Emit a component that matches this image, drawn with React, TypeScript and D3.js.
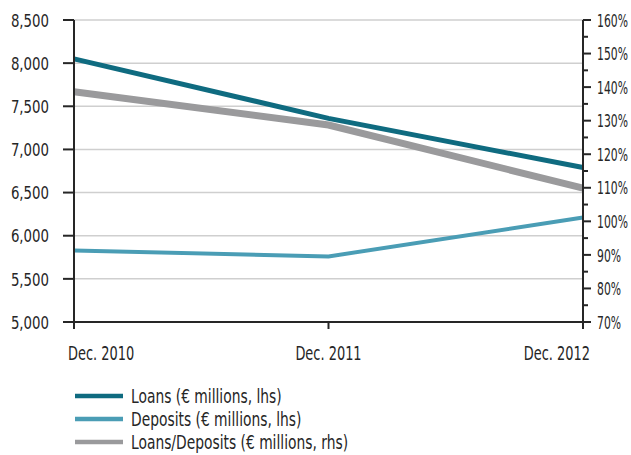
import React from "react";
import * as d3 from "d3";

const categories = ["Dec. 2010", "Dec. 2011", "Dec. 2012"];
const loans = [8050, 7360, 6790];
const deposits = [5830, 5760, 6210];
const ratio = [138.6, 128.7, 109.9];
const leftTicks = [5000, 5500, 6000, 6500, 7000, 7500, 8000, 8500];
const rightTicks = [70, 80, 90, 100, 110, 120, 130, 140, 150, 160];
const rightMinor = [75, 85, 95, 105, 115, 125, 135, 145, 155];
const legendLabels = [
  "Loans (€ millions, lhs)",
  "Deposits (€ millions, lhs)",
  "Loans/Deposits (€ millions, rhs)",
];

const W = 631;
const H = 455;
const FONT = "'DejaVu Sans Condensed', 'DejaVu Sans', sans-serif";
const TXT = "#262626";
const C_LOANS = "#0f6b80";
const C_DEP = "#4a9db5";
const C_RATIO = "#9a9a9c";

type TProps = {
  x: number;
  y: number;
  size: number;
  sx: number;
  anchor?: "start" | "middle" | "end";
  dy?: string;
  children: React.ReactNode;
};

function Txt({ x, y, size, sx, anchor = "start", dy, children }: TProps) {
  return (
    <text
      transform={`translate(${x},${y}) scale(${sx},1)`}
      textAnchor={anchor}
      fontSize={size}
      dy={dy}
      fill={TXT}
    >
      {children}
    </text>
  );
}

export default function App() {
  const x = d3.scalePoint<string>().domain(categories).range([74, 583]);
  const yL = d3.scaleLinear().domain([5000, 8500]).range([322, 20]);
  const yR = d3.scaleLinear().domain([70, 160]).range([322, 20]);
  const fmt = d3.format(",");

  const lineL = d3
    .line<number>()
    .x((_, i) => x(categories[i]) as number)
    .y((d) => yL(d));
  const lineR = d3
    .line<number>()
    .x((_, i) => x(categories[i]) as number)
    .y((d) => yR(d));

  const [x0, x1] = x.range();
  const series = [
    { path: lineL(loans), color: C_LOANS, w: 5 },
    { path: lineL(deposits), color: C_DEP, w: 4 },
    { path: lineR(ratio), color: C_RATIO, w: 7 },
  ];

  const xLabelPos = (c: string, i: number) => {
    const px = x(c) as number;
    if (i === 0) return { px: px - 6, anchor: "start" as const };
    if (i === categories.length - 1) return { px: px + 7, anchor: "end" as const };
    return { px, anchor: "middle" as const };
  };

  return (
    <svg
      width={W}
      height={H}
      style={{ position: "absolute", left: 0, top: 0, background: "#fff" }}
      fontFamily={FONT}
    >
      {/* gridlines */}
      {leftTicks.slice(1).map((t) => (
        <line key={"g" + t} x1={x0} x2={x1} y1={yL(t)} y2={yL(t)} stroke="#cfcfcf" strokeWidth={1.5} />
      ))}
      {/* series */}
      {[series[2], series[1], series[0]].map((s, i) => (
        <path key={i} d={s.path || ""} fill="none" stroke={s.color} strokeWidth={s.w} />
      ))}
      {/* left axis */}
      <line x1={x0} x2={x0} y1={yL(8500)} y2={329} stroke={TXT} strokeWidth={2} />
      {leftTicks.map((t) => (
        <g key={"l" + t}>
          <line x1={x0 - 11} x2={x0} y1={yL(t)} y2={yL(t)} stroke={TXT} strokeWidth={2} />
          <Txt x={49} y={yL(t)} dy="0.36em" anchor="end" size={18.5} sx={0.8}>
            {fmt(t)}
          </Txt>
        </g>
      ))}
      {/* right axis */}
      <line x1={x1} x2={x1} y1={yR(160)} y2={329} stroke={TXT} strokeWidth={2} />
      {rightTicks.map((t) => (
        <g key={"r" + t}>
          <line x1={x1} x2={x1 + 8} y1={yR(t)} y2={yR(t)} stroke={TXT} strokeWidth={2} />
          <Txt x={597} y={yR(t)} dy="0.36em" size={18.5} sx={0.65}>
            {t + "%"}
          </Txt>
        </g>
      ))}
      {rightMinor.map((t) => (
        <line key={"m" + t} x1={x1} x2={x1 + 5} y1={yR(t)} y2={yR(t)} stroke={TXT} strokeWidth={2} />
      ))}
      {/* x axis */}
      <line x1={x0 - 11} x2={x1} y1={322} y2={322} stroke={TXT} strokeWidth={2} />
      {categories.map((c, i) => {
        const p = xLabelPos(c, i);
        return (
          <g key={c}>
            <line x1={x(c)} x2={x(c)} y1={322} y2={329} stroke={TXT} strokeWidth={2} />
            <Txt x={p.px} y={360} anchor={p.anchor} size={20} sx={0.72}>
              {c}
            </Txt>
          </g>
        );
      })}
      {/* legend */}
      {legendLabels.map((l, i) => (
        <g key={l}>
          <line
            x1={75}
            x2={123}
            y1={396 + i * 23}
            y2={396 + i * 23}
            stroke={series[i].color}
            strokeWidth={4.5}
          />
          <Txt x={131} y={396 + i * 23} dy="0.36em" size={20} sx={0.77}>
            {l}
          </Txt>
        </g>
      ))}
    </svg>
  );
}
